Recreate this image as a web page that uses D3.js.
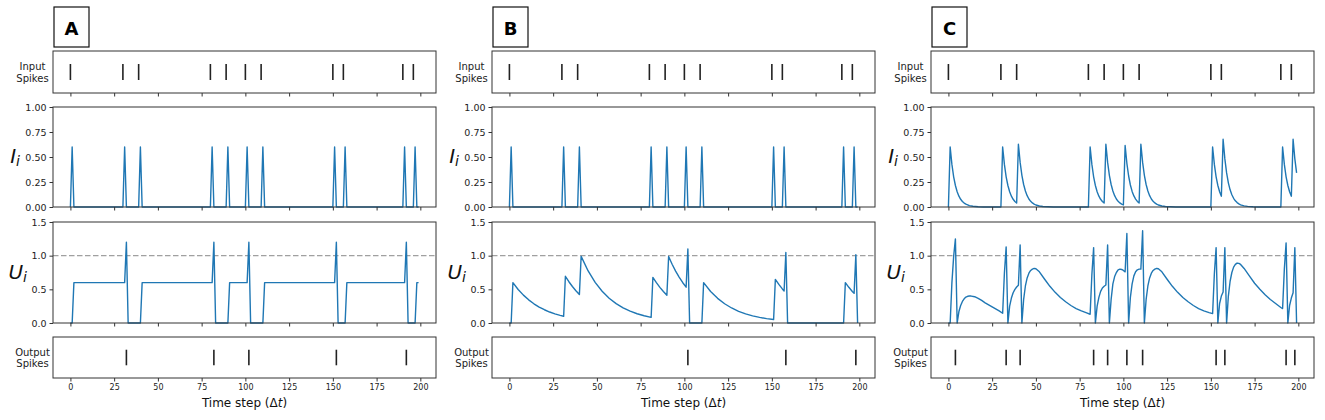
<!DOCTYPE html>
<html>
<head>
<meta charset="utf-8">
<script src="https://cdn.jsdelivr.net/npm/d3@7"></script>
<style>
  body { margin: 0; background: #fff; }
  svg { display: block; }
  text { font-family: "DejaVu Sans", sans-serif; }
</style>
</head>
<body>
<div id="chart"></div>
<script>
// ---- data ----
const panelNames = ["A", "B", "C"];
const xTicks = [0, 25, 50, 75, 100, 125, 150, 175, 200];
const currentTicks = [0, 0.25, 0.5, 0.75, 1];
const memTicks = [0, 0.5, 1, 1.5];
const threshold = 1;

// input spikes are the same in all three panels
const inputSpikes = [0, 30, 39, 80, 89, 100, 109, 150, 156, 190, 196];

// synaptic current, panels A and B (no decay): [time step, value]
const currentAB = [[0,0],[1,0.6],[2,0],[30,0],[31,0.6],[32,0],[39,0],[40,0.6],[41,0],
  [80,0],[81,0.6],[82,0],[89,0],[90,0.6],[91,0],[100,0],[101,0.6],[102,0],[109,0],[110,0.6],[111,0],
  [150,0],[151,0.6],[152,0],[156,0],[157,0.6],[158,0],[190,0],[191,0.6],[192,0],[196,0],[197,0.6],[198,0],[199,0]];

// synaptic current, panel C (decaying)
const currentC = [[0,0],[1,0.6],[2,0.426],[3,0.302],[4,0.215],[5,0.152],[6,0.108],[7,0.077],[8,0.055],[9,0.039],
  [10,0.028],[12,0.014],[14,0.007],[17,0.002],[20,0],[30,0],
  [31,0.6],[32,0.426],[33,0.302],[34,0.215],[35,0.152],[36,0.108],[37,0.077],[38,0.055],[39,0.039],
  [40,0.628],[41,0.446],[42,0.317],[43,0.225],[44,0.16],[45,0.113],[46,0.08],[47,0.057],[48,0.041],[49,0.029],
  [50,0.02],[52,0.01],[54,0.005],[57,0.002],[60,0],[80,0],
  [81,0.6],[82,0.426],[83,0.302],[84,0.215],[85,0.152],[86,0.108],[87,0.077],[88,0.055],[89,0.039],
  [90,0.628],[91,0.446],[92,0.317],[93,0.225],[94,0.16],[95,0.113],[96,0.08],[97,0.057],[98,0.041],[99,0.029],[100,0.02],
  [101,0.615],[102,0.437],[103,0.31],[104,0.22],[105,0.156],[106,0.111],[107,0.079],[108,0.056],[109,0.04],
  [110,0.628],[111,0.446],[112,0.317],[113,0.225],[114,0.16],[115,0.113],[116,0.08],[117,0.057],[118,0.041],[119,0.029],
  [120,0.02],[122,0.01],[124,0.005],[127,0.002],[130,0],[150,0],
  [151,0.6],[152,0.426],[153,0.302],[154,0.215],[155,0.152],[156,0.108],
  [157,0.677],[158,0.481],[159,0.341],[160,0.242],[161,0.172],[162,0.122],[163,0.087],[164,0.062],[165,0.044],
  [166,0.031],[167,0.022],[169,0.011],[171,0.006],[174,0.002],[177,0],[190,0],
  [191,0.6],[192,0.426],[193,0.302],[194,0.215],[195,0.152],[196,0.108],[197,0.677],[198,0.481],[199,0.341]];

// membrane potential
const memA = [[0,0],[1,0],[2,0.6],[31,0.6],[32,1.2],[33,0],[40,0],[41,0.6],[81,0.6],[82,1.2],[83,0],
  [90,0],[91,0.6],[101,0.6],[102,1.2],[103,0],[110,0],[111,0.6],[151,0.6],[152,1.2],[153,0],
  [157,0],[158,0.6],[191,0.6],[192,1.2],[193,0],[197,0],[198,0.6],[199,0.6]];

const memB = [[0,0],[1,0],[2,0.6],[5,0.498],[8,0.414],[11,0.344],[14,0.285],[17,0.237],[20,0.197],[23,0.163],
  [26,0.136],[29,0.113],[31,0.1],[32,0.694],[34,0.613],[36,0.542],[38,0.479],[40,0.423],
  [41,0.99],[45,0.773],[49,0.603],[53,0.471],[57,0.368],[61,0.287],[65,0.224],[69,0.175],[73,0.137],[77,0.107],[81,0.083],
  [82,0.678],[84,0.599],[86,0.529],[88,0.468],[90,0.413],[91,0.988],[93,0.873],[95,0.771],[97,0.682],[99,0.602],[101,0.532],
  [102,1.1],[103,0],[110,0],[111,0.6],[115,0.468],[119,0.366],[123,0.286],[127,0.223],[131,0.174],[135,0.136],
  [139,0.106],[143,0.083],[147,0.065],[151,0.051],[152,0.648],[154,0.573],[156,0.506],[157,0.476],
  [158,1.047],[159,0],[191,0],[192,0.6],[194,0.53],[196,0.468],[197,0.44],[198,1.014],[199,0]];

const memC = [[0,0],[1,0],[2,0.6],[3,0.99],[4,1.25],[5,0],[6,0.17],[7,0.26],[8,0.32],[9,0.36],[10,0.385],
  [11,0.397],[12,0.4],[13,0.4],[15,0.39],[17,0.365],[19,0.335],[21,0.3],[23,0.27],[25,0.24],[27,0.21],[29,0.18],[31,0.145],
  [32,0.74],[33,1.13],[34,0],[35,0.25],[36,0.37],[37,0.45],[38,0.5],[39,0.535],[40,0.56],[41,1.16],
  [42,0],[43,0.35],[44,0.55],[45,0.67],[46,0.74],[47,0.78],[48,0.8],[49,0.81],[50,0.805],[52,0.76],[55,0.65],
  [58,0.545],[61,0.455],[64,0.38],[67,0.315],[70,0.26],[73,0.215],[76,0.18],[79,0.15],[81,0.13],
  [82,0.72],[83,1.12],[84,0],[85,0.25],[86,0.38],[87,0.47],[88,0.52],[89,0.545],[90,0.565],[91,1.16],
  [92,0],[93,0.35],[94,0.58],[95,0.69],[96,0.75],[97,0.79],[98,0.8],[99,0.795],[100,0.78],[101,0.76],[102,1.33],
  [103,0],[104,0.38],[105,0.58],[106,0.7],[107,0.76],[108,0.79],[109,0.8],[110,0.8],[111,1.37],
  [112,0],[113,0.35],[114,0.55],[115,0.67],[116,0.74],[117,0.78],[118,0.8],[119,0.81],[120,0.805],[122,0.76],
  [125,0.65],[128,0.545],[131,0.455],[134,0.38],[137,0.315],[140,0.26],[143,0.215],[146,0.18],[149,0.155],[151,0.14],
  [152,0.73],[153,1.12],[154,0],[155,0.29],[156,0.4],[157,0.46],[158,1.12],
  [159,0],[160,0.4],[161,0.62],[162,0.75],[163,0.83],[164,0.87],[165,0.89],[166,0.885],[167,0.87],[169,0.81],
  [172,0.7],[175,0.59],[178,0.5],[181,0.42],[184,0.35],[187,0.29],[190,0.23],[191,0.215],
  [192,0.8],[193,1.19],[194,0],[195,0.26],[196,0.37],[197,0.45],[198,1.12],[199,0]];

const outA = [32, 82, 102, 152, 192];
const outB = [102, 158, 198];
const outC = [4, 33, 41, 83, 91, 102, 111, 153, 158, 193, 198];

const currents = [currentAB, currentAB, currentC];
const mems = [memA, memB, memC];
const outputs = [outA, outB, outC];

// ---- layout ----
const width = 1325, height = 420;
const lefts = [53, 492, 931];
const pw = 383;
const rowInput = [51, 93], rowCur = [107, 207], rowMem = [222, 323], rowOut = [337, 378];
const spineColor = "#333";
const blue = "#1f77b4";

const svg = d3.select("#chart").append("svg")
  .attr("width", width)
  .attr("height", height);

function box(g, x, row) {
  g.append("rect")
    .attr("x", x.range()[0]).attr("y", row[0])
    .attr("width", x.range()[1] - x.range()[0]).attr("height", row[1] - row[0])
    .attr("fill", "none").attr("stroke", spineColor).attr("stroke-width", 1);
}

function xAxis(g, x, row, labels) {
  const ax = g.append("g")
    .attr("transform", `translate(0,${row[1]})`)
    .call(d3.axisBottom(x).tickValues(xTicks).tickSize(3.5).tickPadding(3)
      .tickFormat(labels ? d3.format("d") : ""));
  ax.select(".domain").remove();
  ax.selectAll(".tick line").attr("stroke", spineColor);
  ax.selectAll(".tick text").attr("font-size", "8px").attr("fill", "#222")
    .attr("font-family", "DejaVu Sans, sans-serif");
}

function yAxis(g, x, y, ticks, fmt) {
  const ax = g.append("g")
    .attr("transform", `translate(${x.range()[0]},0)`)
    .call(d3.axisLeft(y).tickValues(ticks).tickSize(3.5).tickPadding(3).tickFormat(d3.format(fmt)));
  ax.select(".domain").remove();
  ax.selectAll(".tick line").attr("stroke", spineColor);
  ax.selectAll(".tick text").attr("font-size", "9.5px").attr("fill", "#222")
    .attr("font-family", "DejaVu Sans, sans-serif");
}

function spikeRow(g, x, row, times, label1, label2) {
  const y = d3.scaleLinear().domain([-1, 1]).range([row[1], row[0]]);
  g.selectAll(null).data(times).join("line")
    .attr("x1", d => x(d)).attr("x2", d => x(d))
    .attr("y1", y(-0.38)).attr("y2", y(0.38))
    .attr("stroke", "#222").attr("stroke-width", 1.6);
  box(g, x, row);
  xAxis(g, x, row, label1 === "Output");
  const cx = x.range()[0] - 20.5;
  const cy = (row[0] + row[1]) / 2;
  const t = g.append("text").attr("text-anchor", "middle")
    .attr("font-size", "10px").attr("fill", "#222");
  t.append("tspan").attr("x", cx).attr("y", cy - 2).text(label1);
  t.append("tspan").attr("x", cx).attr("y", cy + 9.5).text(label2);
}

function mathLabel(g, xRight, baseline, main, sub) {
  const t = g.append("text")
    .attr("x", xRight).attr("y", baseline)
    .attr("text-anchor", "end")
    .attr("font-style", "italic")
    .attr("fill", "#111");
  t.append("tspan").attr("font-size", "20px").text(main);
  t.append("tspan").attr("font-size", "14px").attr("dy", 3).text(sub);
}

panelNames.forEach((name, i) => {
  const g = svg.append("g");
  const x = d3.scaleLinear().domain([-9.95, 208.95]).range([lefts[i], lefts[i] + pw]);

  // panel letter box
  g.append("rect")
    .attr("x", lefts[i] + 1).attr("y", 7).attr("width", 35).attr("height", 40)
    .attr("fill", "#fff").attr("stroke", "#111").attr("stroke-width", 1.2);
  g.append("text")
    .attr("x", lefts[i] + 18.5).attr("y", 34.5)
    .attr("text-anchor", "middle")
    .attr("font-family", "Liberation Sans, Arial, sans-serif")
    .attr("font-weight", "bold").attr("font-size", "18px")
    .attr("fill", "#000")
    .text(name);

  // input spikes
  spikeRow(g, x, rowInput, inputSpikes, "Input", "Spikes");

  // synaptic current
  const yI = d3.scaleLinear().domain([0, 1]).range([rowCur[1], rowCur[0]]);
  g.append("path")
    .datum(currents[i])
    .attr("d", d3.line().x(d => x(d[0])).y(d => yI(d[1])))
    .attr("fill", "none").attr("stroke", blue).attr("stroke-width", 1.4)
    .attr("stroke-linejoin", "round");
  box(g, x, rowCur);
  xAxis(g, x, rowCur, false);
  yAxis(g, x, yI, currentTicks, ".2f");
  mathLabel(g, lefts[i] - 33, 163, "I", "i");

  // membrane potential
  const yU = d3.scaleLinear().domain([0, 1.5]).range([rowMem[1], rowMem[0]]);
  g.append("line")
    .attr("x1", x.range()[0]).attr("x2", x.range()[1])
    .attr("y1", yU(threshold)).attr("y2", yU(threshold))
    .attr("stroke", "#a0a0a0").attr("stroke-width", 1.3)
    .attr("stroke-dasharray", "5.5,2.5");
  g.append("path")
    .datum(mems[i])
    .attr("d", d3.line().x(d => x(d[0])).y(d => yU(d[1])))
    .attr("fill", "none").attr("stroke", blue).attr("stroke-width", 1.4)
    .attr("stroke-linejoin", "round");
  box(g, x, rowMem);
  xAxis(g, x, rowMem, false);
  yAxis(g, x, yU, memTicks, ".1f");
  mathLabel(g, lefts[i] - 26, 279, "U", "i");

  // output spikes
  spikeRow(g, x, rowOut, outputs[i], "Output", "Spikes");

  // x label
  const xl = g.append("text")
    .attr("x", lefts[i] + pw / 2).attr("y", 406.5)
    .attr("text-anchor", "middle")
    .attr("font-size", "12px").attr("fill", "#111");
  xl.append("tspan").text("Time step (Δ");
  xl.append("tspan").attr("font-style", "italic").text("t");
  xl.append("tspan").text(")");
});
</script>
</body>
</html>
